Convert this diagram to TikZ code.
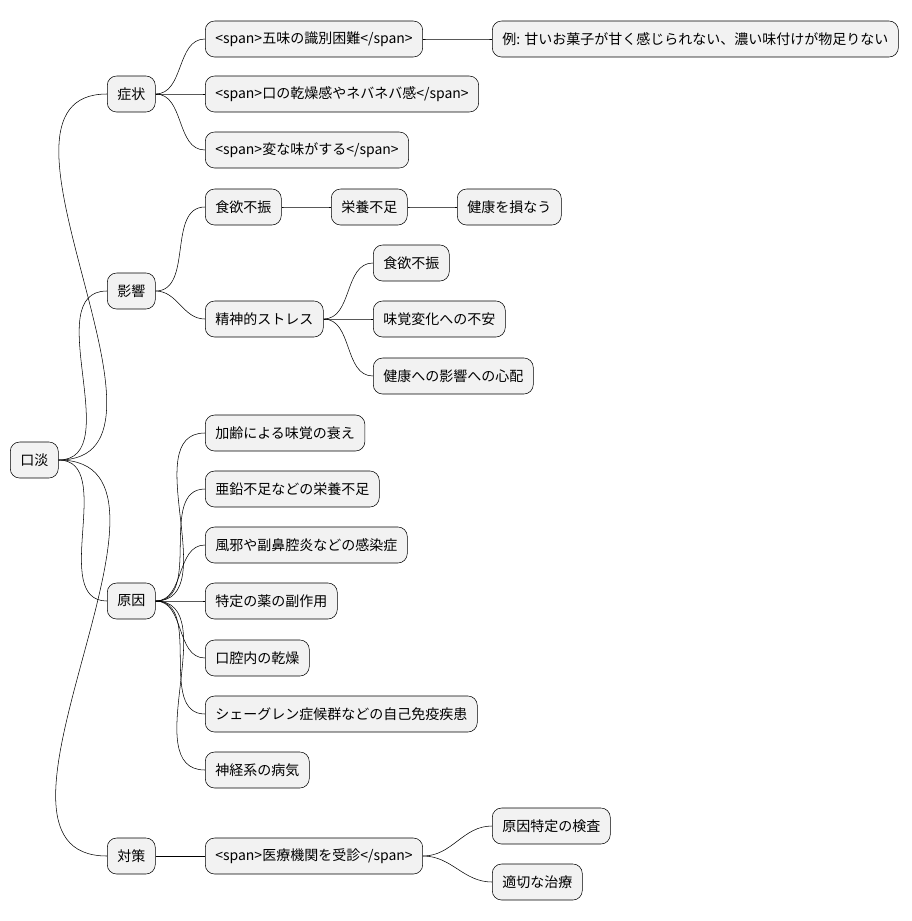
\documentclass[tikz,border=0pt]{standalone}
\usepackage{fontspec}
\setmainfont{Noto Sans CJK JP}
\usetikzlibrary{positioning}
\tikzset{
    topic/.style={draw=black, fill=gray!10, rounded corners=7pt, thin,
        minimum height=27pt, inner xsep=7.5pt, anchor=west, font=\fontsize{10.5}{12}\selectfont},
    link/.style={thin, black}
}
\begin{document}
\begin{tikzpicture}[x=0.75pt, y=-0.75pt]
    \useasboundingbox (0,0) rectangle (911,921);

    % Root
    \node[topic] (root) at (10,460) {口淡};

    % Level 1
    \node[topic] (sym) at (107,94) {症状};
    \node[topic] (eff) at (107,291) {影響};
    \node[topic] (cause) at (107,601) {原因};
    \node[topic] (act) at (107,856) {対策};

    % Symptoms
    \node[topic] (s1) at (205,39) {<span>五味の識別困難</span>};
    \node[topic] (s1a) at (492,39) {例: 甘いお菓子が甘く感じられない、濃い味付けが物足りない};
    \node[topic] (s2) at (205,94) {<span>口の乾燥感やネバネバ感</span>};
    \node[topic] (s3) at (205,150) {<span>変な味がする</span>};

    % Effects
    \node[topic] (e1) at (205,207) {食欲不振};
    \node[topic] (e1a) at (331,207) {栄養不足};
    \node[topic] (e1b) at (457,207) {健康を損なう};
    \node[topic] (e2) at (205,319) {精神的ストレス};
    \node[topic] (e2a) at (373,263) {食欲不振};
    \node[topic] (e2b) at (373,319) {味覚変化への不安};
    \node[topic] (e2c) at (373,376) {健康への影響への心配};

    % Causes
    \node[topic] (c1) at (205,433) {加齢による味覚の衰え};
    \node[topic] (c2) at (205,489) {亜鉛不足などの栄養不足};
    \node[topic] (c3) at (205,545) {風邪や副鼻腔炎などの感染症};
    \node[topic] (c4) at (205,601) {特定の薬の副作用};
    \node[topic] (c5) at (205,658) {口腔内の乾燥};
    \node[topic] (c6) at (205,714) {シェーグレン症候群などの自己免疫疾患};
    \node[topic] (c7) at (205,770) {神経系の病気};

    % Measures
    \node[topic] (a1) at (205,856) {<span>医療機関を受診</span>};
    \node[topic] (a1a) at (492,826) {原因特定の検査};
    \node[topic] (a1b) at (492,882) {適切な治療};

    % Connectors
    \foreach \p/\c in {root/sym, root/eff, root/cause, root/act,
        sym/s1, sym/s2, sym/s3, s1/s1a,
        eff/e1, eff/e2, e1/e1a, e1a/e1b, e2/e2a, e2/e2b, e2/e2c,
        cause/c1, cause/c2, cause/c3, cause/c4, cause/c5, cause/c6, cause/c7,
        act/a1, a1/a1a, a1/a1b}
        \draw[link] (\p.east) to[out=0, in=180] (\c.west);
\end{tikzpicture}
\end{document}
